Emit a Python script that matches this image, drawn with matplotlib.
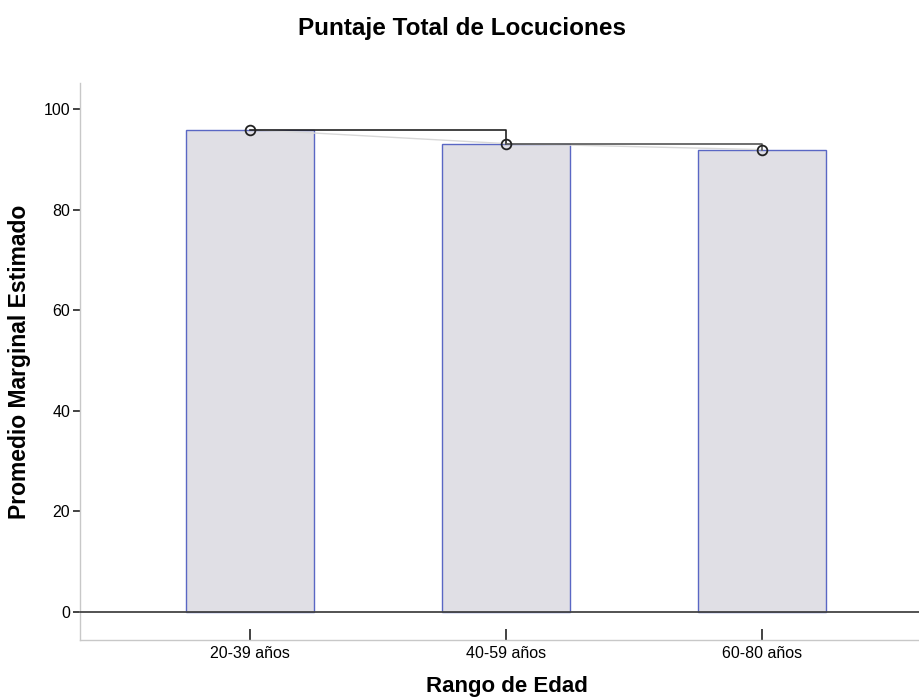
import numpy as np
import matplotlib
matplotlib.use('Agg')
import matplotlib.pyplot as plt

plt.rcParams['font.family'] = ['Liberation Sans', 'DejaVu Sans']

categories = ['20-39 años', '40-59 años', '60-80 años']
means = [96.0, 93.2, 92.0]
yticks = [0, 20, 40, 60, 80, 100]

fig = plt.figure(figsize=(9.2, 7), dpi=100)
ax = fig.add_axes([0.087, 0.0857, 0.913, 0.7953])

x = np.arange(len(categories))
ax.bar(x, means, width=0.5, color='#e0dfe5', edgecolor='#5a67c4', linewidth=1.0, zorder=2)

# faint line joining the means
ax.plot(x, means, color='#d8d8d8', linewidth=1.0, zorder=3)

# bracket lines between adjacent groups
for i in range(len(means) - 1):
    ax.plot([x[i], x[i + 1], x[i + 1]], [means[i], means[i], means[i + 1]],
            color='#222222' if i == 0 else '#555555', linewidth=1.2, zorder=4)

ax.plot(x, means, linestyle='none', marker='o', markersize=7, markerfacecolor='none',
        markeredgecolor='#222222', markeredgewidth=1.3, zorder=5)

ax.axhline(0, color='#444444', linewidth=1.3, zorder=3)

ax.set_xlim(-0.664, 2.617)
ax.set_ylim(-5.6, 105.2)
ax.set_yticks(yticks)
ax.set_xticks(x)
ax.set_xticklabels(categories)
ax.tick_params(axis='y', labelsize=11.5, length=5, width=1.2, color='#222222', pad=2)
ax.tick_params(axis='x', labelsize=11.5, direction='in', length=8, width=1.2,
               color='#222222', pad=4)

for side in ['top', 'right']:
    ax.spines[side].set_visible(False)
for side in ['left', 'bottom']:
    ax.spines[side].set_color('#c8c8c8')
    ax.spines[side].set_linewidth(1.0)

ax.set_ylabel('Promedio Marginal Estimado', fontsize=16.5, fontweight='bold')
ax.yaxis.set_label_coords(-0.058, 0.5)
ax.set_xlabel('Rango de Edad', fontsize=16, fontweight='bold')
ax.xaxis.set_label_coords(0.508, -0.065)
fig.text(0.502, 0.96, 'Puntaje Total de Locuciones', ha='center', va='center',
         fontsize=17.5, fontweight='bold')

fig.savefig('out.png', dpi=100)
